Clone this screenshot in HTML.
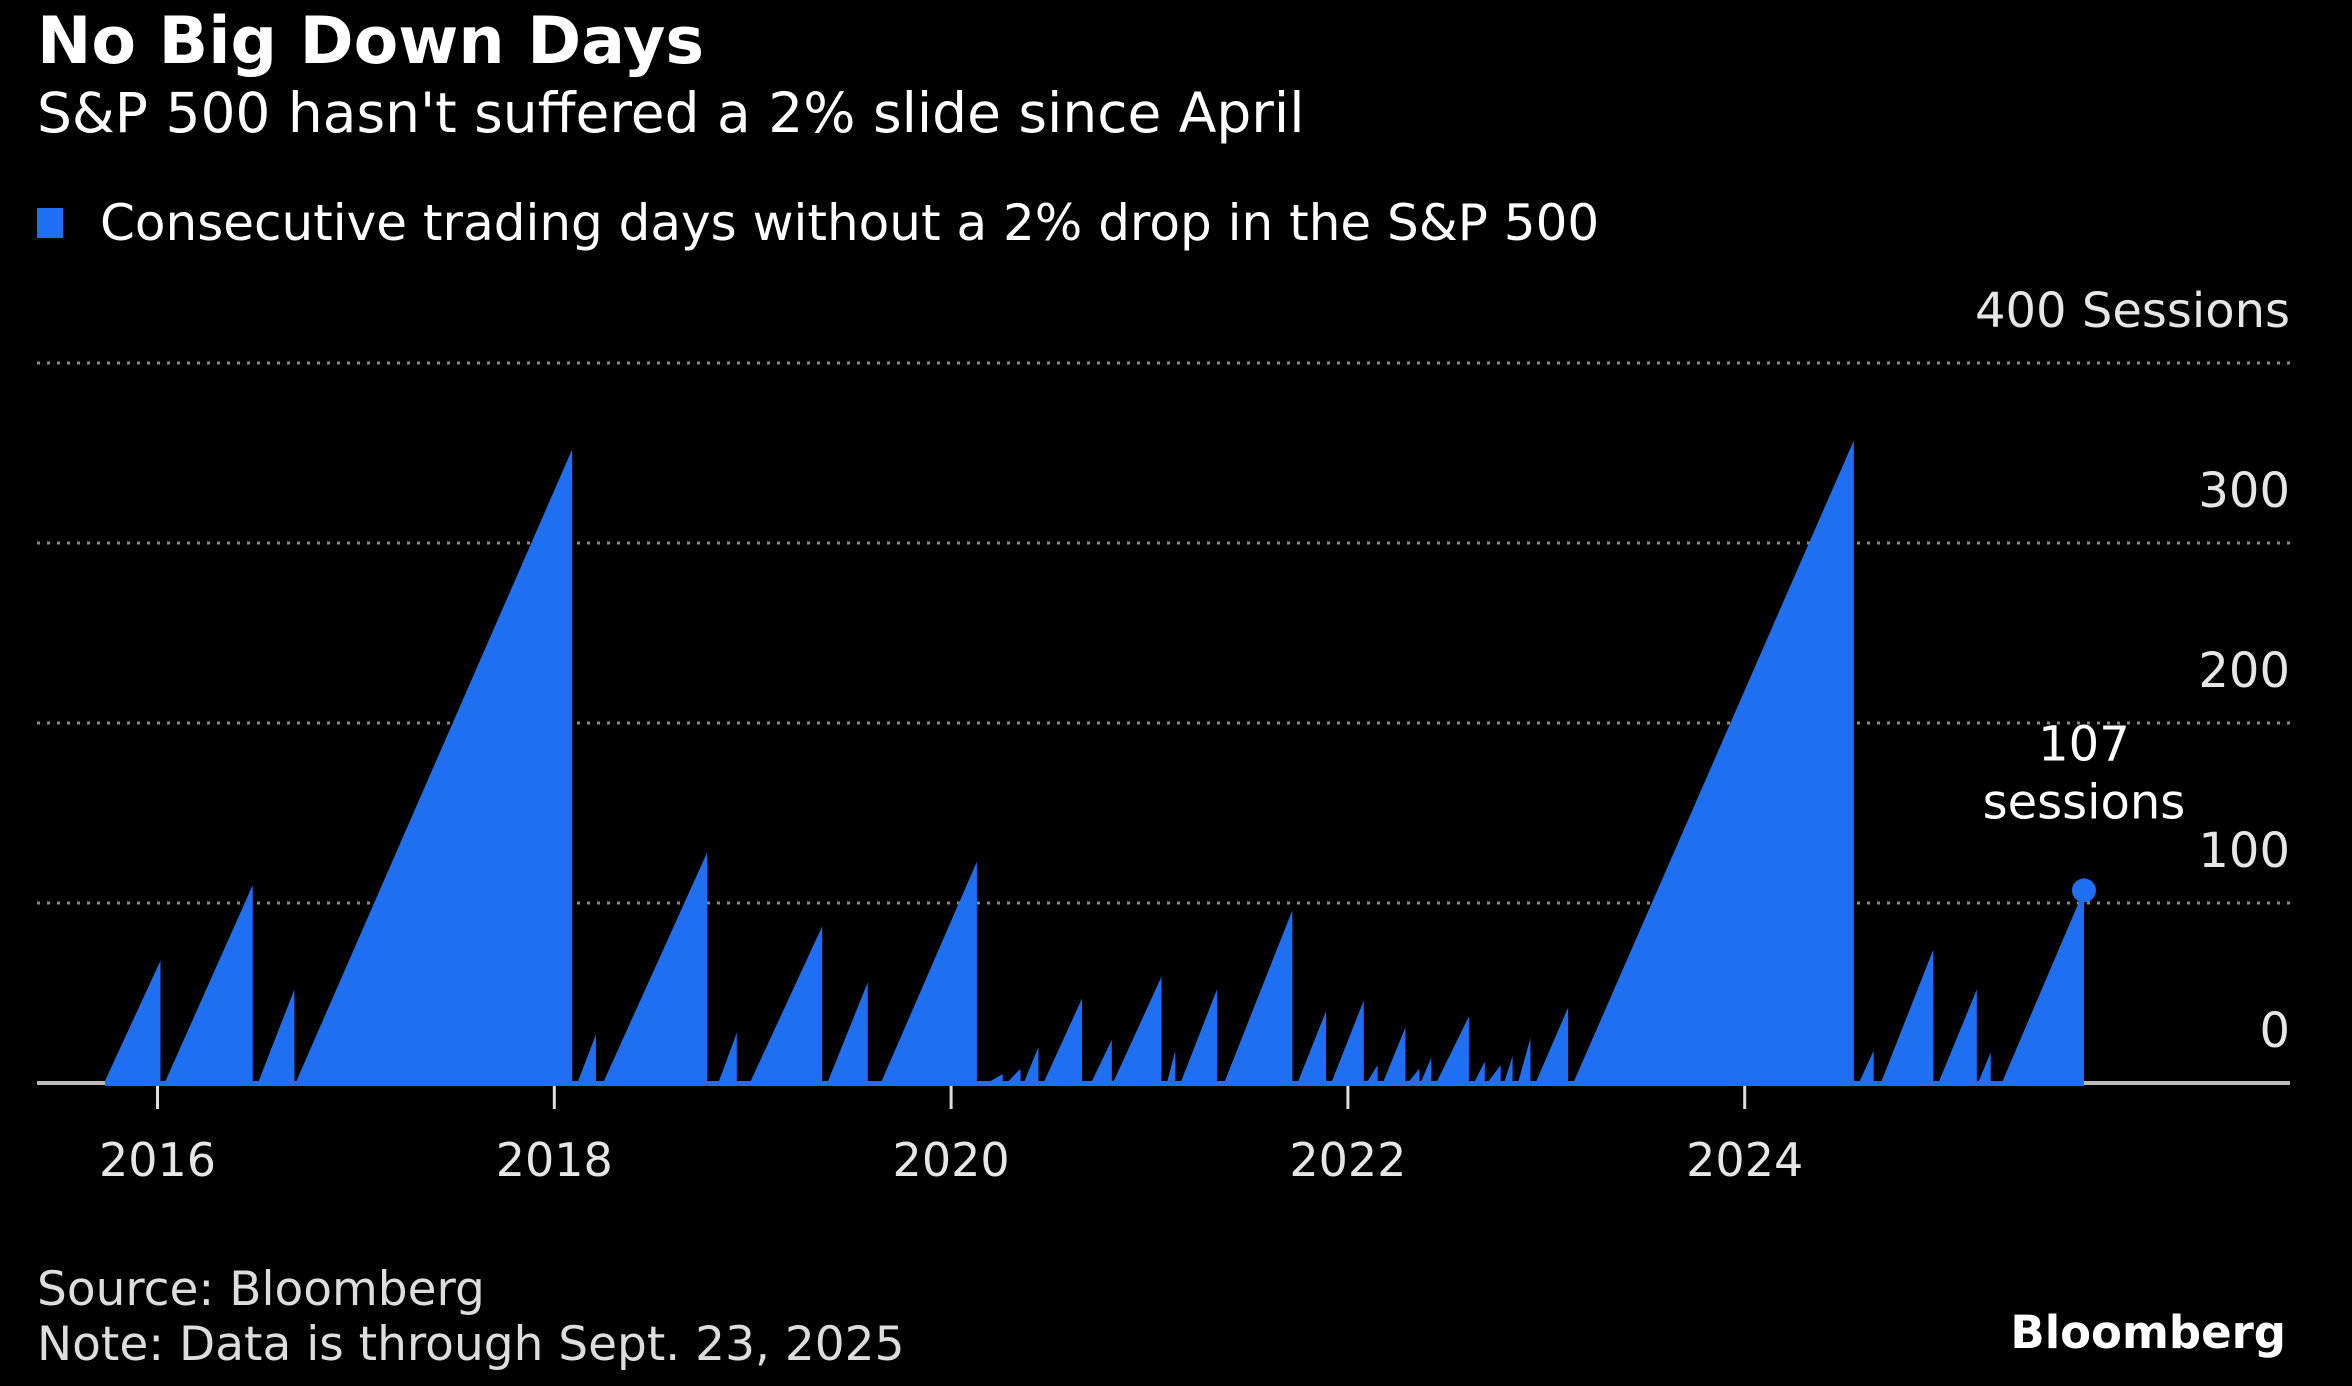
<!DOCTYPE html>
<html><head><meta charset="utf-8"><style>
html,body{margin:0;padding:0;background:#000;}
body{width:2352px;height:1386px;overflow:hidden;position:relative;font-family:"DejaVu Sans",sans-serif;color:#fff;}
.t{position:absolute;white-space:nowrap;}
</style></head><body>
<div class="t" style="left:37px;top:4px;font-size:65px;font-weight:bold;">No Big Down Days</div>
<div class="t" style="left:37px;top:81px;font-size:55px;">S&amp;P 500 hasn't suffered a 2% slide since April</div>
<div style="position:absolute;left:37px;top:208px;width:26px;height:30px;background:#1f6ff2;"></div>
<div class="t" style="left:100px;top:194px;font-size:50px;">Consecutive trading days without a 2% drop in the S&amp;P 500</div>
<svg id="chart" width="2352" height="1386" style="position:absolute;left:0;top:0;" xmlns="http://www.w3.org/2000/svg"></svg>
<div class="t" style="left:37px;top:1262px;font-size:47px;color:#ddd;">Source: Bloomberg</div>
<div class="t" style="left:37px;top:1317px;font-size:47px;color:#ddd;">Note: Data is through Sept. 23, 2025</div>
<div class="t" style="right:66px;top:1306px;font-size:45px;font-weight:bold;">Bloomberg</div>
<script>
const startDates=[2015.735,2016.04,2016.51,2016.70,2018.12,2018.25,2018.83,2018.99,2019.38,2019.65,2020.20,2020.29,2020.37,2020.47,2020.71,2020.82,2021.09,2021.16,2021.38,2021.75,2021.92,2022.10,2022.18,2022.31,2022.37,2022.45,2022.64,2022.71,2022.79,2022.86,2022.95,2023.14,2024.58,2024.69,2024.98,2025.18,2025.30];
const peakDates=[2016.015,2016.48,2016.69,2018.09,2018.21,2018.77,2018.92,2019.35,2019.58,2020.13,2020.26,2020.35,2020.44,2020.66,2020.81,2021.06,2021.13,2021.34,2021.72,2021.89,2022.08,2022.15,2022.29,2022.36,2022.42,2022.61,2022.69,2022.77,2022.83,2022.92,2023.11,2024.55,2024.65,2024.95,2025.17,2025.24,2025.71];
const peakValues=[68,110,52,352,27,128,28,87,56,123,5,8,20,47,24,59,18,52,96,40,46,10,31,8,14,37,12,10,15,25,42,357,18,74,52,17,107];
const yTicks=[0,100,200,300,400];
const yTickLabels=["0","100","200","300","400 Sessions"];
const xTicks=[2016,2018,2020,2022,2024];
const NS="http://www.w3.org/2000/svg";
const svg=document.getElementById('chart');
const X=yr=>157.5+(yr-2016)*198.4;
const Y=v=>1083-v*1.8;
const L=37,R=2290;
const FF='DejaVu Sans, sans-serif';
function mk(tag,attrs){const e=document.createElementNS(NS,tag);for(const k in attrs)e.setAttribute(k,attrs[k]);svg.appendChild(e);return e;}
yTicks.forEach((v,i)=>{
  if(v>0){const g=mk('line',{x1:L,x2:R,y1:Y(v),y2:Y(v),stroke:'#8a8a8a','stroke-width':3,'stroke-dasharray':'3 7'});
  
  }
  const t=mk('text',{x:R,y:Y(v)-36,'text-anchor':'end','font-size':48,fill:'#e6e6e6','font-family':FF});
  t.textContent=yTickLabels[i];
  
  
});
const base=mk('line',{x1:L,x2:R,y1:Y(0),y2:Y(0),stroke:'#bbb','stroke-width':4});


xTicks.forEach(yr=>{
  const tk=mk('line',{x1:X(yr),x2:X(yr),y1:Y(0),y2:Y(0)+26,stroke:'#ddd','stroke-width':3});
  
  
  const t=mk('text',{x:X(yr),y:1176,'text-anchor':'middle','font-size':46,fill:'#e6e6e6','font-family':FF});
  t.textContent=yr;
  
  
});
let d='M'+X(startDates[0])+','+Y(0);
for(let i=0;i<peakValues.length;i++){
  d+=' L'+X(startDates[i])+','+(Y(0)-2)+' L'+X(peakDates[i])+','+Y(peakValues[i])+' L'+X(peakDates[i])+','+(Y(0)-2);
}
d+=' L'+X(peakDates[peakDates.length-1])+','+(Y(0)+3)+' L'+X(startDates[0])+','+(Y(0)+3)+' Z';
const area=mk('path',{d:d,fill:'#1f6ff2'});


const li=peakValues.length-1;
const dot=mk('circle',{cx:X(peakDates[li]),cy:Y(peakValues[li]),r:12,fill:'#1f6ff2'});


const a1=mk('text',{x:X(peakDates[li]),y:Y(peakValues[li])-130,'text-anchor':'middle','font-size':48,fill:'#fff','font-family':FF});
a1.textContent=peakValues[li];


const a2=mk('text',{x:X(peakDates[li]),y:Y(peakValues[li])-72,'text-anchor':'middle','font-size':48,fill:'#fff','font-family':FF});
a2.textContent='sessions';


</script>
</body></html>
